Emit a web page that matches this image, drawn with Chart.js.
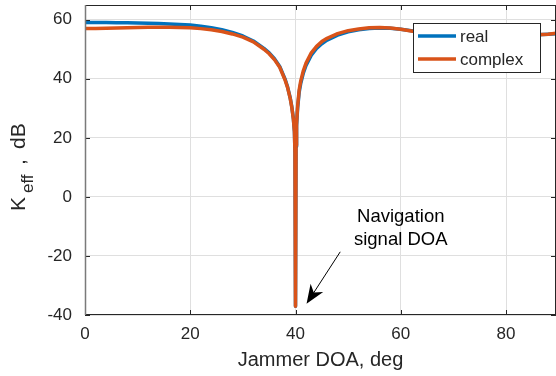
<!DOCTYPE html>
<html lang="en">
<head>
    <meta charset="UTF-8">
    <title>Keff vs Jammer DOA</title>
    <script src="https://cdn.jsdelivr.net/npm/chart.js"></script>
    <style>
        body { margin: 0; background: #fff; }
        #wrap { width: 556px; height: 376px; }
    </style>
</head>
<body>
    <div id="wrap">
        <canvas id="keffChart" width="556" height="376"></canvas>
    </div>
    <script>

        // jammer direction of arrival, deg
        const doa = [0, 2, 4, 6, 8, 10, 12, 14, 16, 18, 20, 22, 24, 26, 28, 30, 32, 34, 35, 36, 37, 38, 38.5, 39, 39.3, 39.6, 39.8, 39.9,
            40, 40.1, 40.2, 40.4, 40.7, 41, 41.5, 42, 43, 44, 45, 46, 48, 50, 52, 54, 56, 58, 60, 62, 64, 66, 68, 70,
            72, 74, 76, 78, 80, 82, 84, 86, 88, 89.5];

        // Keff, dB
        const keffReal = [59.1, 59.1, 59.1, 59.0, 59.0, 58.9, 58.8, 58.7, 58.6, 58.4, 58.2, 57.8, 57.3, 56.6, 55.7, 54.5, 52.8, 50.3, 48.8, 46.8, 44.2, 40.0, 37.2, 33.5, 30.5, 26.5, 22, 15,
            -37, 17, 24, 30, 35.5, 38.5, 42, 44.5, 48, 50.3, 51.9, 53.1, 54.8, 55.9, 56.6, 57.0, 57.2, 57.1, 56.8, 56.3, 55.7, 55.2, 54.7, 54.4,
            54.2, 54.1, 54.1, 54.2, 54.3, 54.5, 54.7, 54.9, 55.1, 55.3];

        const keffComplex = [57.0, 57.0, 57.1, 57.2, 57.3, 57.4, 57.5, 57.5, 57.5, 57.4, 57.3, 57.0, 56.6, 56.0, 55.2, 54.1, 52.5, 50.0, 48.5, 46.5, 43.9, 39.7, 37.0, 33.3, 30.3, 26.3, 22, 15,
            -37, 17.5, 24.5, 30.7, 36.3, 39.3, 42.8, 45.3, 48.8, 51.0, 52.6, 53.7, 55.3, 56.3, 56.9, 57.3, 57.4, 57.2, 56.8, 56.2, 55.6, 55.0, 54.5, 54.1,
            53.9, 53.8, 53.8, 53.9, 54.1, 54.3, 54.6, 54.9, 55.1, 55.4];

        const xTicks = [0, 20, 40, 60, 80];
        const yTicks = [-40, -20, 0, 20, 40, 60];
        const seriesNames = ['real', 'complex'];
        const seriesColors = ['#0072BD', '#D95319'];

        const fontFam = '"Liberation Sans", Arial, Helvetica, sans-serif';
        const axisColor = '#262626';

        function toPoints(ys) {
            return doa.map((x, i) => ({ x: x, y: ys[i] }));
        }

        // box, inward ticks, legend, y label and the arrow note
        const matlabLook = {
            id: 'matlabLook',
            afterDatasetsDraw(chart) {
                const ctx = chart.ctx;
                const a = chart.chartArea;
                const xs = chart.scales.x;
                const ys = chart.scales.y;
                const tl = 5;

                ctx.save();
                ctx.lineWidth = 1;
                ctx.strokeStyle = axisColor;
                ctx.beginPath();
                ctx.moveTo(a.left, a.top + 0.5); ctx.lineTo(a.right, a.top + 0.5);
                ctx.moveTo(a.left, a.bottom - 0.5); ctx.lineTo(a.right, a.bottom - 0.5);
                ctx.moveTo(a.right - 0.5, a.top); ctx.lineTo(a.right - 0.5, a.bottom);
                xTicks.forEach(v => {
                    const px = Math.round(xs.getPixelForValue(v)) + 0.5;
                    ctx.moveTo(px, a.bottom); ctx.lineTo(px, a.bottom - tl);
                    ctx.moveTo(px, a.top); ctx.lineTo(px, a.top + tl);
                });
                yTicks.forEach(v => {
                    const py = Math.round(ys.getPixelForValue(v)) + 0.5;
                    ctx.moveTo(a.left, py); ctx.lineTo(a.left + tl, py);
                    ctx.moveTo(a.right, py); ctx.lineTo(a.right - tl, py);
                });
                ctx.stroke();

                ctx.strokeStyle = '#7a7a7a';
                ctx.lineWidth = 1.5;
                ctx.beginPath();
                ctx.moveTo(a.left + 0.5, a.top); ctx.lineTo(a.left + 0.5, a.bottom);
                ctx.stroke();

                // legend
                const lx = a.right - 143, ly = a.top + 18, lw = 127, lh = 49;
                ctx.fillStyle = '#fff';
                ctx.fillRect(lx, ly, lw, lh);
                ctx.strokeStyle = axisColor;
                ctx.lineWidth = 1;
                ctx.strokeRect(lx + 0.5, ly + 0.5, lw, lh);
                ctx.font = '17px ' + fontFam;
                ctx.textBaseline = 'middle';
                ctx.textAlign = 'left';
                seriesNames.forEach((name, i) => {
                    const ry = ly + 13 + i * 23;
                    ctx.strokeStyle = seriesColors[i];
                    ctx.lineWidth = 3.5;
                    ctx.beginPath();
                    ctx.moveTo(lx + 5, ry); ctx.lineTo(lx + 43, ry);
                    ctx.stroke();
                    ctx.fillStyle = axisColor;
                    ctx.fillText(name, lx + 47, ry + 1);
                });

                // y axis label with subscript
                ctx.save();
                ctx.translate(25, 211);
                ctx.rotate(-Math.PI / 2);
                ctx.fillStyle = axisColor;
                ctx.textBaseline = 'alphabetic';
                ctx.textAlign = 'left';
                const big = '21px ' + fontFam, small = '17px ' + fontFam;
                ctx.font = big; ctx.fillText('K', 0, 0);
                ctx.font = small; ctx.fillText('eff', 18, 8);
                ctx.font = big; ctx.fillText(',', 46, 0);
                ctx.fillText('dB', 62, 0);
                ctx.restore();

                // note + arrow
                ctx.fillStyle = '#000';
                ctx.font = '18.5px ' + fontFam;
                ctx.textAlign = 'center';
                ctx.textBaseline = 'middle';
                ctx.fillText('Navigation', xs.getPixelForValue(60), ys.getPixelForValue(-6.7));
                ctx.fillText('signal DOA', xs.getPixelForValue(60), ys.getPixelForValue(-14.5));

                const x1 = xs.getPixelForValue(48.5), y1 = ys.getPixelForValue(-18.6);
                const x2 = xs.getPixelForValue(42.1), y2 = ys.getPixelForValue(-36.2);
                const ang = Math.atan2(y2 - y1, x2 - x1);
                const hl = 19, hw = 7.5;
                ctx.strokeStyle = '#000';
                ctx.lineWidth = 1;
                ctx.beginPath();
                ctx.moveTo(x1, y1);
                ctx.lineTo(x2 - Math.cos(ang) * 12, y2 - Math.sin(ang) * 12);
                ctx.stroke();
                ctx.save();
                ctx.translate(x2, y2);
                ctx.rotate(ang);
                ctx.beginPath();
                ctx.moveTo(0, 0);
                ctx.lineTo(-hl, -hw);
                ctx.lineTo(-hl * 0.7, 0);
                ctx.lineTo(-hl, hw);
                ctx.closePath();
                ctx.fill();
                ctx.restore();
                ctx.restore();
            }
        };

        new Chart(document.getElementById('keffChart').getContext('2d'), {
            type: 'line',
            data: {
                datasets: [
                    {
                        label: seriesNames[0],
                        data: toPoints(keffReal),
                        borderColor: seriesColors[0],
                        borderWidth: 3.5,
                        pointRadius: 0,
                        tension: 0,
                        borderCapStyle: 'round',
                        borderJoinStyle: 'round',
                        order: 1
                    },
                    {
                        label: seriesNames[1],
                        data: toPoints(keffComplex),
                        borderColor: seriesColors[1],
                        borderWidth: 3.5,
                        pointRadius: 0,
                        tension: 0,
                        borderCapStyle: 'round',
                        borderJoinStyle: 'round',
                        order: 0
                    }
                ]
            },
            options: {
                responsive: false,
                animation: false,
                devicePixelRatio: 1,
                layout: { padding: { top: 5, right: 0, left: 0, bottom: 0 } },
                plugins: {
                    legend: { display: false },
                    tooltip: { enabled: false }
                },
                scales: {
                    x: {
                        type: 'linear',
                        min: 0,
                        max: 89.5,
                        afterFit: s => { s.height = 61; s.paddingLeft = 0; s.paddingRight = 0; },
                        afterBuildTicks: s => { s.ticks = xTicks.map(v => ({ value: v })); },
                        grid: { color: '#dfdfdf', drawTicks: false },
                        border: { display: false },
                        ticks: {
                            includeBounds: false,
                            padding: 9,
                            color: axisColor,
                            font: { family: fontFam, size: 17 }
                        },
                        title: {
                            display: true,
                            text: 'Jammer DOA, deg',
                            color: axisColor,
                            padding: { top: 0, bottom: 4 },
                            font: { family: fontFam, size: 20 }
                        }
                    },
                    y: {
                        min: -40,
                        max: 65,
                        afterFit: s => { s.width = 85; s.paddingTop = 0; s.paddingBottom = 0; },
                        afterBuildTicks: s => { s.ticks = yTicks.map(v => ({ value: v })); },
                        grid: { color: '#dfdfdf', drawTicks: false },
                        border: { display: false },
                        ticks: {
                            includeBounds: false,
                            padding: 13,
                            color: axisColor,
                            font: { family: fontFam, size: 17 }
                        }
                    }
                }
            },
            plugins: [matlabLook]
        });
    </script>
</body>
</html>
